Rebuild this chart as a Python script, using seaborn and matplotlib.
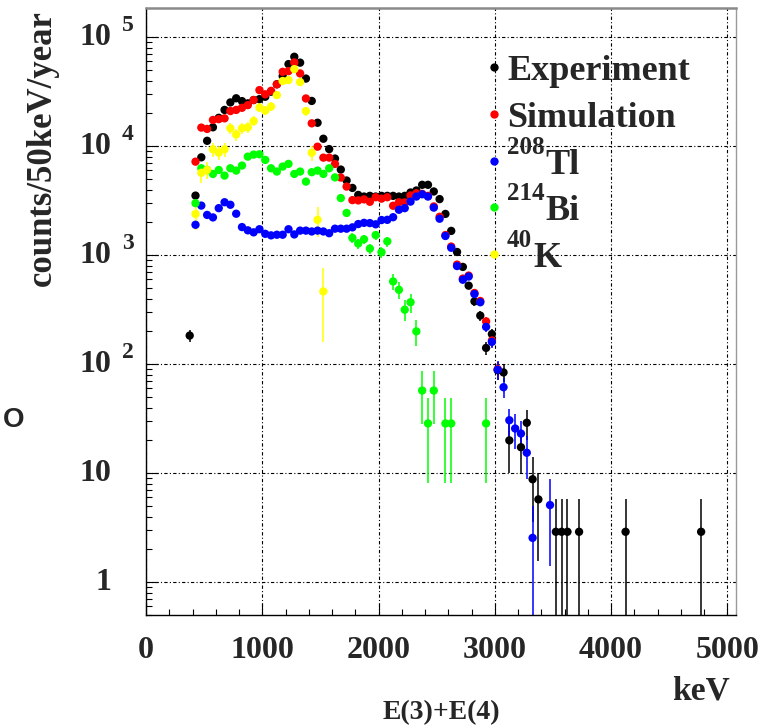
import numpy as np
import pandas as pd
import matplotlib
matplotlib.use("Agg")
import matplotlib.pyplot as plt
import seaborn as sns
from matplotlib.ticker import FixedLocator, LogLocator, NullFormatter
from matplotlib.transforms import blended_transform_factory

# ---------------- data (counts per 50 keV per year) ----------------
exp_x = [375, 425, 475, 525, 575, 625, 675, 725, 775, 825, 875, 925, 975, 1025, 1075,
         1125, 1175, 1225, 1275, 1325, 1375, 1425, 1475, 1525, 1575, 1625, 1675, 1725,
         1775, 1825, 1875, 1925, 1975, 2025, 2075, 2125, 2175, 2225, 2275, 2325, 2375,
         2425, 2475, 2525, 2575, 2625, 2675, 2725, 2775, 2825, 2875, 2925, 2975, 3025,
         3075, 3125, 3225, 3275, 3325, 3375, 3525, 3575, 3625, 3725, 4125, 4775]
exp_y = [183, 3520, 7900, 11200, 14900, 18200, 21500, 25200, 27500, 25900, 24700, 26500,
         27000, 28400, 31600, 37000, 44000, 56600, 66100, 58400, 41700, 26000, 16400, 11700,
         9400, 7700, 6100, 4840, 4140, 3570, 3450, 3500, 3450, 3500, 3500, 3500, 3450, 3500,
         3760, 3920, 4420, 4420, 3840, 3270, 2390, 1670, 1070, 780, 525, 377, 279, 141, 189,
         88, 84, 20, 17.3, 29, 8.8, 5.75, 2.9, 2.9, 2.9, 2.9, 2.9, 2.9]
exp_err = [23, 101, 151, 180, 208, 230, 250, 270, 282, 274, 268, 277, 280, 287, 303, 328,
           357, 405, 438, 412, 348, 275, 218, 184, 165, 149, 133, 118, 110, 102, 100, 101,
           100, 101, 101, 101, 100, 101, 104, 107, 113, 113, 106, 97, 83, 70, 56, 48, 39, 33,
           28, 20, 23, 16, 16, 10, 7.5, 9, 5.2, 4.2, 2.85, 2.85, 2.85, 2.85, 2.85, 2.85]

sim_x = [425, 475, 525, 575, 625, 675, 725, 775, 825, 875, 925, 975, 1025, 1075, 1125,
         1175, 1225, 1275, 1325, 1375, 1425, 1475, 1525, 1575, 1625, 1675, 1725, 1775,
         1825, 1875, 1925, 1975, 2025, 2075, 2125, 2175, 2225, 2275, 2325, 2375, 2425,
         2475, 2525, 2575, 2625, 2675, 2725, 2775, 2825, 2875, 2925, 2975, 3025]
sim_y = [7210, 14800, 14400, 17400, 17700, 18000, 21000, 21500, 22500, 23800, 26500, 32700,
         29900, 32200, 36900, 48100, 48800, 58600, 46500, 27400, 16200, 9890, 7850, 7850,
         6870, 5150, 4260, 3200, 3180, 3250, 3090, 3400, 3300, 3400, 2840, 3060, 3050, 3530,
         3700, 3650, 3500, 2800, 2250, 1530, 1200, 820, 610, 650, 450, 380, 247, 165, 90]
sim_err = [134, 192, 190, 209, 210, 212, 229, 232, 237, 244, 257, 286, 273, 284, 304, 347,
           349, 383, 341, 262, 201, 157, 140, 140, 131, 113, 103, 89, 89, 90, 88, 92, 91, 92,
           84, 87, 87, 94, 96, 96, 94, 84, 75, 62, 55, 45, 39, 40, 34, 31, 25, 20, 15]

tl_x = [425, 475, 525, 575, 625, 675, 725, 775, 825, 875, 925, 975, 1025, 1075, 1125,
        1175, 1225, 1275, 1325, 1375, 1425, 1475, 1525, 1575, 1625, 1675, 1725, 1775,
        1825, 1875, 1925, 1975, 2025, 2075, 2125, 2175, 2225, 2275, 2325, 2375, 2425,
        2475, 2525, 2575, 2625, 2675, 2725, 2775, 2825, 2875, 2925, 2975, 3025, 3075,
        3125, 3175, 3225, 3275, 3325, 3475]
tl_y = [1900, 2850, 2340, 2220, 2700, 3060, 2900, 2400, 1810, 1690, 1620, 1730, 1570, 1520,
        1540, 1540, 1730, 1550, 1680, 1680, 1650, 1680, 1650, 1590, 1750, 1750, 1750, 1800,
        1930, 1980, 1970, 1920, 2100, 2110, 2230, 2610, 2700, 3100, 3450, 3620, 3450, 2730,
        2160, 1500, 1170, 795, 595, 637, 440, 370, 220, 160, 89, 61.5, 30.6, 25.7, 23.1,
        15.4, 2.55, 5.1]
tl_err = [70, 86, 78, 76, 84, 89, 87, 79, 69, 66, 65, 67, 64, 63, 63, 63, 67, 63, 66, 66,
          65, 66, 65, 64, 67, 67, 67, 68, 71, 72, 72, 71, 74, 74, 76, 82, 84, 90, 95, 97, 95,
          84, 75, 62, 55, 45, 39, 41, 34, 31, 24, 20, 17, 13, 8.5, 9, 7, 6.5, 2.5, 3.7]

bi_x = [425, 475, 525, 575, 625, 675, 725, 775, 825, 875, 925, 975, 1025, 1075, 1125,
        1175, 1225, 1275, 1325, 1375, 1425, 1475, 1525, 1575, 1625, 1675, 1725, 1775,
        1825, 1875, 1925, 1975, 2025, 2075, 2125, 2175, 2225, 2275, 2325, 2375, 2425,
        2475, 2575, 2625, 2925]
bi_y = [3000, 6270, 6050, 5560, 6050, 5370, 6270, 5970, 6640, 8020, 8370, 8430, 7480, 6270,
        5850, 6500, 6880, 5560, 5850, 4730, 5770, 5970, 5560, 6270, 5170, 3340, 2440, 1440,
        1280, 1400, 1150, 1530, 1065, 1340, 574, 481, 316, 370, 200, 57.3, 28.6, 57.3, 28.6,
        28.6, 28.6]
bi_err = [209, 302, 296, 284, 296, 279, 302, 294, 310, 341, 348, 350, 329, 302, 291, 307,
          316, 284, 291, 262, 289, 294, 284, 302, 274, 220, 188, 144, 136, 142, 129, 149,
          124, 139, 91, 84, 68, 73, 54, 29, 20.4, 29, 20.4, 20.4, 20.4]

k_x = [425, 475, 525, 575, 625, 675, 725, 775, 825, 875, 925, 975, 1025, 1075, 1125,
       1175, 1225, 1275, 1325, 1375, 1425, 1475, 1525]
k_y = [2390, 5700, 6050, 9360, 8720, 9360, 14600, 12800, 14600, 14900, 17000, 22600, 21200,
       23100, 29400, 39600, 40400, 50900, 38700, 21000, 8700, 2110, 465]
k_err = [690, 1070, 1100, 1370, 1320, 1370, 1710, 1600, 1710, 1730, 1840, 2130, 2060, 2150,
         2420, 2810, 2840, 3190, 2780, 2050, 1320, 650, 305]

series_names = ["Experiment", "Simulation", "208Tl", "214Bi", "40K"]
series_colors = ["#000000", "#ff0000", "#0000ff", "#00ff00", "#ffff00"]
legend_sup = ["", "", "208", "214", "40"]
legend_main = ["Experiment", "Simulation", "Tl", "Bi", "K"]

x_ticks = [0, 1000, 2000, 3000, 4000, 5000]
x_ticklabels = ["0", "1000", "2000", "3000", "4000", "5000"]
y_ticks = [1, 10, 100, 1000, 10000, 100000]
y_tick_base = ["1", "10", "10", "10", "10", "10"]
y_tick_exp = ["", "", "2", "3", "4", "5"]

# ---------------- figure ----------------
sns.set_theme(style="white")
plt.rcParams['font.family'] = ['Liberation Serif', 'DejaVu Serif']
plt.rcParams['font.weight'] = 'bold'

W, H = 778, 727
fig = plt.figure(figsize=(W / 100, H / 100), dpi=100)
fig.patch.set_facecolor("white")
AX_L, AX_R, AX_T, AX_B = 146.1, 736.0, 8.3, 615.0
ax = fig.add_axes([AX_L / W, 1 - AX_B / H, (AX_R - AX_L) / W, (AX_B - AX_T) / H])
ax.set_facecolor("white")

def fx(px):
    return px / W

def fy(py):
    return 1 - py / H

all_x = [exp_x, sim_x, tl_x, bi_x, k_x]
all_y = [exp_y, sim_y, tl_y, bi_y, k_y]
all_e = [exp_err, sim_err, tl_err, bi_err, k_err]

frames = []
for name, xs, ys, es in zip(series_names, all_x, all_y, all_e):
    frames.append(pd.DataFrame({"energy": xs, "counts": ys, "err": es, "source": name}))
df = pd.concat(frames, ignore_index=True)

ax.set_yscale("log")
for name, col in zip(series_names, series_colors):
    sub = df[df["source"] == name]
    ax.errorbar(sub["energy"], sub["counts"], yerr=sub["err"], fmt="none",
                ecolor=col, elinewidth=1.1, capsize=0, zorder=2)

palette = dict(zip(series_names, series_colors))
sns.scatterplot(data=df, x="energy", y="counts", hue="source", palette=palette,
                s=36, linewidth=0, legend=False, ax=ax, zorder=3)

ax.set_xlim(0, 5075)
ax.set_ylim(0.5, 1.84e5)
ax.set_xlabel("")
ax.set_ylabel("")

# ticks
ax.xaxis.set_major_locator(FixedLocator(x_ticks))
ax.xaxis.set_minor_locator(FixedLocator(list(range(200, 5001, 200))))
ax.set_xticklabels(x_ticklabels, fontsize=23, fontweight="bold")
ax.yaxis.set_major_locator(FixedLocator(y_ticks))
ax.yaxis.set_minor_locator(LogLocator(base=10, subs=np.arange(2, 10)))
ax.yaxis.set_minor_formatter(NullFormatter())
ax.set_yticklabels([])
ax.tick_params(axis="both", which="both", direction="in", top=False, right=False,
               bottom=True, left=True, color="black")
ax.tick_params(axis="both", which="major", length=8.5, width=0.8)
ax.tick_params(axis="both", which="minor", length=4.3, width=0.8)
ax.tick_params(axis="x", which="major", pad=15)

# grid
ax.grid(True, which="major", color="black", linestyle=(0, (3, 2, 1, 2)), linewidth=0.8)
ax.set_axisbelow(True)

# spines
for s in ["left", "bottom"]:
    ax.spines[s].set_color("black")
    ax.spines[s].set_linewidth(1.0)
ax.spines["top"].set_color("#8a8a8a")
ax.spines["top"].set_linewidth(1.8)
ax.spines["right"].set_color("#9a9a9a")
ax.spines["right"].set_linewidth(1.0)

# y tick labels (ROOT style 10 ^n)
trans = blended_transform_factory(fig.transFigure, ax.transData)
for val, base, ex in zip(y_ticks, y_tick_base, y_tick_exp):
    ax.text(fx(111), val, base, transform=trans, ha="right", va="center",
            fontsize=23, fontweight="bold", clip_on=False)
    if ex:
        ax.text(fx(122), val * 10 ** (12 / 109.2), ex, transform=trans, ha="left",
                va="center", fontsize=17, fontweight="bold", clip_on=False)

# axis titles
fig.text(fx(42), fy(10), "counts/50keV/year", rotation=90, ha="center", va="top",
         fontsize=25, fontweight="bold")
fig.text(fx(730), fy(700), "keV", ha="right", va="baseline", fontsize=24, fontweight="bold")
fig.text(fx(441), fy(719), "E(3)+E(4)", ha="center", va="baseline", fontsize=20,
         fontweight="bold")
fig.text(fx(14), fy(420), "O", ha="center", va="center", fontsize=20, fontweight="bold",
         family=["Liberation Sans", "DejaVu Sans"])

# legend (no box)
marker_py = [67.3, 114.0, 160.7, 207.3, 254.3]
fig.canvas.draw()
renderer = fig.canvas.get_renderer()
for py, col, sup, main in zip(marker_py, series_colors, legend_sup, legend_main):
    fig.add_artist(plt.Line2D([fx(493.5)], [fy(py)], marker="o", markersize=6,
                              color=col, markeredgewidth=0, linestyle="none",
                              transform=fig.transFigure))
    x0 = 507.0
    if sup:
        t = fig.text(fx(x0), fy(py - 7), sup, ha="left", va="baseline", fontsize=18,
                     fontweight="bold")
        bb = t.get_window_extent(renderer)
        x0 = bb.x1 + 1
    fig.text(fx(x0), fy(py + 13), main, ha="left", va="baseline", fontsize=26,
             fontweight="bold")

fig.savefig("out.png", dpi=100, facecolor="white")
